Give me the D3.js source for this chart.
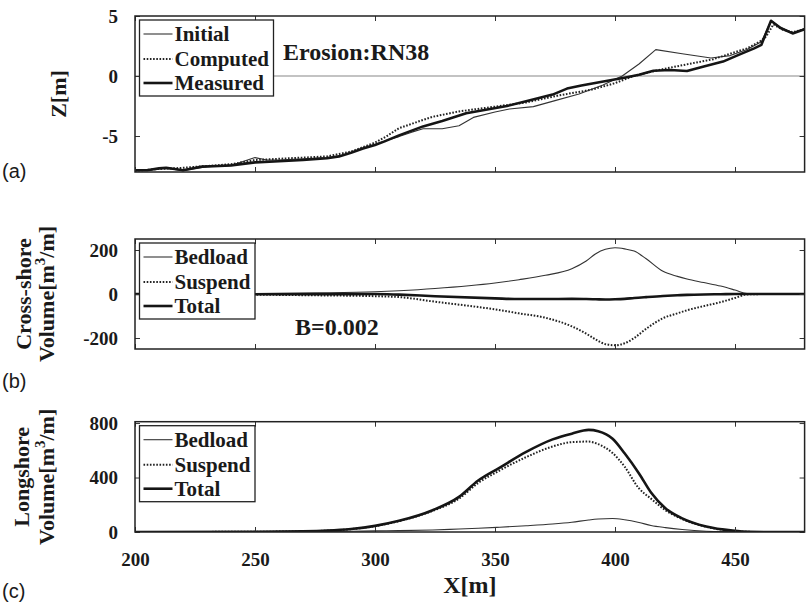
<!DOCTYPE html>
<html>
<head>
<meta charset="utf-8">
<script src="https://cdn.jsdelivr.net/npm/d3@7"></script>
<style>
  body { margin: 0; background: #fff; }
  text { fill: #1a1a1a; }
</style>
</head>
<body>
<div id="chart"></div>
<script>
// ---- data ----
var xTicks = [200, 250, 300, 350, 400, 450];

// (a) beach profile Z[m]
var initialX = [200, 205, 210, 215, 220, 225, 230, 240, 250, 255, 260, 270, 280, 285, 290, 295, 300, 305, 310, 315, 320, 328, 335, 341, 350, 356, 366, 375, 385, 395, 403, 410, 417, 428, 440, 448, 455, 461, 465, 469, 474, 479];
var initialZ = [-7.9, -7.85, -7.7, -7.75, -7.9, -7.7, -7.55, -7.45, -6.8, -7.0, -7.0, -6.9, -6.8, -6.7, -6.4, -6.0, -5.7, -5.35, -5.05, -4.7, -4.4, -4.4, -4.15, -3.45, -3.0, -2.75, -2.55, -2.05, -1.5, -0.75, 0.0, 1.0, 2.2, 1.85, 1.5, 1.7, 2.2, 2.85, 4.6, 4.05, 3.6, 3.95];
var computedX = [200, 210, 220, 230, 240, 250, 260, 270, 280, 290, 300, 305, 310, 318, 324, 335, 352, 363, 377, 390, 400, 407, 415, 422, 432, 441, 447, 455, 461, 463, 466, 470, 474, 479];
var computedZ = [-7.9, -7.75, -7.65, -7.5, -7.35, -7.0, -6.9, -6.8, -6.7, -6.3, -5.55, -5.0, -4.35, -3.8, -3.4, -2.95, -2.5, -2.2, -1.6, -1.15, -0.6, -0.05, 0.35, 0.66, 1.05, 1.4, 1.8, 2.3, 2.95, 3.3, 4.3, 3.85, 3.65, 3.9];
var measuredX = [200, 205, 210, 213, 220, 228, 235, 240, 250, 260, 270, 280, 285, 290, 295, 300, 304, 310, 320, 328, 338, 345, 355, 365, 374, 380, 386, 394, 405, 410, 416, 423, 430, 437, 445, 452, 458, 461, 465, 469, 474, 479];
var measuredZ = [-7.85, -7.85, -7.7, -7.65, -7.85, -7.55, -7.5, -7.45, -7.2, -7.1, -7.0, -6.85, -6.7, -6.4, -6.05, -5.75, -5.45, -4.95, -4.2, -3.75, -3.1, -2.85, -2.5, -2.0, -1.55, -1.05, -0.8, -0.5, -0.1, 0.1, 0.44, 0.5, 0.42, 0.8, 1.2, 1.8, 2.3, 2.6, 4.6, 4.0, 3.55, 3.9];

// (b) cross-shore volume [m3/m]
var crossX = [200, 225, 250, 275, 300, 310, 325, 350, 360, 371, 382, 388, 392, 396, 400, 404, 408, 413, 420, 426, 430, 437, 444, 450, 455, 465, 479];
var crossBedload = [0, 1, 2, 5, 10, 15, 25, 50, 65, 85, 115, 150, 183, 203, 210, 205, 195, 160, 103, 80, 68, 52, 36, 18, 2, 0, 0];
var crossSuspend = [0, -1, -3, -6, -10, -14, -35, -70, -88, -108, -147, -180, -207, -228, -233, -224, -200, -158, -110, -88, -74, -55, -37, -18, -2, 0, 0];
var crossTotal = [0, 0, -1, -1, 0, -3, -10, -20, -23, -23, -22, -23, -24, -25, -24, -22, -18, -14, -9, -6, -4, -2, -1, 0, 0, 0, 0];

// (c) longshore volume [m3/m]
var longX = [200, 250, 270, 280, 290, 300, 310, 324, 335, 343, 352, 363, 374, 382, 389, 393, 399, 404, 410, 415, 421, 428, 438, 449, 456, 465, 479];
var longBedload = [0, 1, 2, 3, 5, 8, 10, 15, 22, 27, 35, 46, 59, 72, 88, 95, 99, 90, 70, 48, 32, 18, 6, 2, 0, 0, 0];
var longSuspend = [0, 2, 5, 10, 21, 43, 80, 155, 245, 360, 452, 550, 628, 660, 664, 645, 580, 480, 320, 245, 160, 95, 38, 8, 1, 0, 0];
var longTotal = [0, 2, 5, 10, 22, 45, 82, 160, 258, 378, 473, 588, 680, 722, 750, 740, 685, 578, 430, 290, 175, 100, 40, 10, 1, 0, 0];

// ---- layout ----
var W = 807, H = 608;
var left = 135, right = 804.6;
var serif = "'Liberation Serif', 'Times New Roman', serif";
var sans = "'Liberation Sans', Arial, sans-serif";

var svg = d3.select("#chart").append("svg")
    .attr("width", W)
    .attr("height", H);

var x = d3.scaleLinear()
    .domain([200, 479])
    .range([left, right]);

// plain hyphen for negatives, like the original figure
var plain = function (d) { return String(d); };

function zip(xs, ys) {
  return xs.map(function (d, i) { return {x: d, y: ys[i]}; });
}

var styles = {
  thin:   {width: 1.1, dash: null, color: "#333"},
  dotted: {width: 2, dash: "1.6,1.6", color: "#222"},
  thick:  {width: 2.6, dash: null, color: "#151515"}
};

function drawPanel(p, idx) {
  var y = d3.scaleLinear()
      .domain(p.domain)
      .range([p.bottom, p.top]);

  var g = svg.append("g");

  var clipId = "clip" + idx;
  g.append("clipPath").attr("id", clipId)
    .append("rect")
      .attr("x", left).attr("y", p.top)
      .attr("width", right - left).attr("height", p.bottom - p.top);

  var plot = g.append("g").attr("clip-path", "url(#" + clipId + ")");

  // zero reference line (panel a)
  if (p.zeroLine) {
    plot.append("line")
      .attr("x1", left).attr("x2", right)
      .attr("y1", y(0)).attr("y2", y(0))
      .attr("stroke", "#888")
      .attr("stroke-width", 1.2);
  }

  var line = d3.line()
      .x(function (d) { return x(d.x); })
      .y(function (d) { return y(d.y); })
      .curve(p.curve);

  p.series.forEach(function (s) {
    var st = styles[s.style];
    plot.append("path")
      .datum(zip(s.xs, s.ys))
      .attr("d", line)
      .attr("fill", "none")
      .attr("stroke", st.color)
      .attr("stroke-width", st.width)
      .attr("stroke-dasharray", st.dash)
      .attr("stroke-linejoin", "round");
  });

  // axes with inward ticks
  var xb = g.append("g")
      .attr("transform", "translate(0," + p.bottom + ")")
      .call(d3.axisBottom(x).tickValues(xTicks).tickSize(-5).tickPadding(21)
        .tickFormat(p.xLabels ? plain : ""));
  var xt = g.append("g")
      .attr("transform", "translate(0," + p.top + ")")
      .call(d3.axisTop(x).tickValues(xTicks).tickSize(-5).tickFormat(""));
  var yl = g.append("g")
      .attr("transform", "translate(" + left + ",0)")
      .call(d3.axisLeft(y).tickValues(p.ticks).tickSize(-5).tickPadding(17)
        .tickFormat(plain));
  var yr = g.append("g")
      .attr("transform", "translate(" + right + ",0)")
      .call(d3.axisRight(y).tickValues(p.ticks).tickSize(-5).tickFormat(""));

  [xb, xt, yl, yr].forEach(function (a) {
    a.select(".domain").remove();
    a.selectAll(".tick line").attr("stroke", "#333").attr("stroke-width", 1);
    a.selectAll(".tick text")
      .attr("font-family", serif)
      .attr("font-weight", "bold")
      .attr("font-size", 19)
      .attr("fill", "#1a1a1a");
  });

  // frame
  g.append("rect")
    .attr("x", left).attr("y", p.top)
    .attr("width", right - left).attr("height", p.bottom - p.top)
    .attr("fill", "none")
    .attr("stroke", "#222")
    .attr("stroke-width", 1.5);

  // legend
  var lg = g.append("g").attr("transform", "translate(139.5," + (p.top + 4) + ")");
  lg.append("rect")
    .attr("width", p.legendWidth).attr("height", 76)
    .attr("fill", "#fff")
    .attr("stroke", "#222")
    .attr("stroke-width", 1.3);
  var rows = [14, 39, 63];
  p.series.forEach(function (s, i) {
    var st = styles[s.style];
    lg.append("line")
      .attr("x1", 4).attr("x2", 33)
      .attr("y1", rows[i]).attr("y2", rows[i])
      .attr("stroke", st.color)
      .attr("stroke-width", st.width)
      .attr("stroke-dasharray", st.dash);
    lg.append("text")
      .attr("x", 35).attr("y", rows[i] + 7)
      .attr("font-family", serif)
      .attr("font-weight", "bold")
      .attr("font-size", 21)
      .text(s.name);
  });

  // annotation inside the plot
  if (p.note) {
    g.append("text")
      .attr("x", p.note.x).attr("y", p.note.y)
      .attr("font-family", serif)
      .attr("font-weight", "bold")
      .attr("font-size", 24)
      .text(p.note.text);
  }

  // y axis title (rotated)
  var mid = (p.top + p.bottom) / 2;
  p.yTitle.forEach(function (t) {
    var tx = g.append("text")
      .attr("transform", "translate(" + t.x + "," + mid + ") rotate(-90)")
      .attr("text-anchor", "middle")
      .attr("font-family", serif)
      .attr("font-weight", "bold")
      .attr("font-size", 22);
    if (t.sup) {
      tx.append("tspan").text(t.text[0]);
      tx.append("tspan").attr("font-size", 15).attr("dy", -9).text(t.sup);
      tx.append("tspan").attr("dy", 9).text(t.text[1]);
    } else {
      tx.text(t.text);
    }
  });

  // panel letter
  svg.append("text")
    .attr("x", 2).attr("y", p.letterY)
    .attr("font-family", sans)
    .attr("font-size", 20)
    .text(p.letter);
}

var volumeTitle = {text: ["Volume[m", "/m]"], sup: "3"};

var panels = [
  {
    top: 16, bottom: 172, domain: [-8, 5], ticks: [-5, 0, 5],
    curve: d3.curveLinear, zeroLine: true, legendWidth: 134,
    series: [
      {name: "Initial", xs: initialX, ys: initialZ, style: "thin"},
      {name: "Computed", xs: computedX, ys: computedZ, style: "dotted"},
      {name: "Measured", xs: measuredX, ys: measuredZ, style: "thick"}
    ],
    note: {text: "Erosion:RN38", x: 283, y: 60},
    yTitle: [{text: "Z[m]", x: 66}],
    letter: "(a)", letterY: 178
  },
  {
    top: 239, bottom: 349, domain: [-250, 250], ticks: [-200, 0, 200],
    curve: d3.curveMonotoneX, legendWidth: 115.5,
    series: [
      {name: "Bedload", xs: crossX, ys: crossBedload, style: "thin"},
      {name: "Suspend", xs: crossX, ys: crossSuspend, style: "dotted"},
      {name: "Total", xs: crossX, ys: crossTotal, style: "thick"}
    ],
    note: {text: "B=0.002", x: 295, y: 335},
    yTitle: [{text: "Cross-shore", x: 31}, Object.assign({x: 54}, volumeTitle)],
    letter: "(b)", letterY: 388
  },
  {
    top: 421.7, bottom: 532, domain: [0, 810], ticks: [0, 400, 800],
    curve: d3.curveMonotoneX, legendWidth: 115.5, xLabels: true,
    series: [
      {name: "Bedload", xs: longX, ys: longBedload, style: "thin"},
      {name: "Suspend", xs: longX, ys: longSuspend, style: "dotted"},
      {name: "Total", xs: longX, ys: longTotal, style: "thick"}
    ],
    yTitle: [{text: "Longshore", x: 29}, Object.assign({x: 54}, volumeTitle)],
    letter: "(c)", letterY: 598
  }
];

panels.forEach(drawPanel);

// shared x axis title
svg.append("text")
  .attr("x", (left + right) / 2)
  .attr("y", 593)
  .attr("text-anchor", "middle")
  .attr("font-family", serif)
  .attr("font-weight", "bold")
  .attr("font-size", 24)
  .text("X[m]");
</script>
</body>
</html>
